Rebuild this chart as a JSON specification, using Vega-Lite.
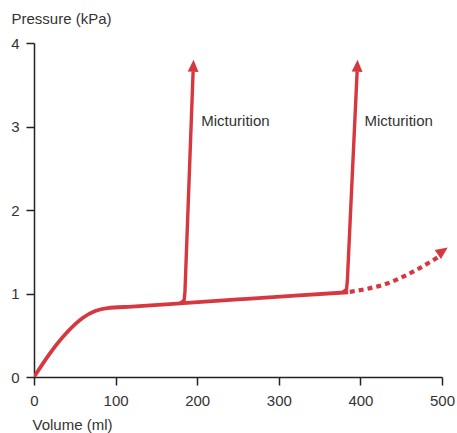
{
  "$schema": "https://vega.github.io/schema/vega-lite/v6.json",
  "width": 408,
  "height": 334,
  "autosize": {"type": "none"},
  "padding": {"left": 34, "top": 43, "right": 15, "bottom": 56},
  "background": "white",
  "config": {
    "view": {"stroke": null},
    "font": "Liberation Sans",
    "axis": {
      "grid": false,
      "domainColor": "#222",
      "domainWidth": 1.5,
      "tickColor": "#222",
      "tickWidth": 1.5,
      "tickSize": 8,
      "labelFontSize": 15,
      "labelColor": "#333",
      "labelFlush": false,
      "titleFontSize": 15,
      "titleFontWeight": "normal",
      "titleColor": "#333"
    }
  },
  "datasets": {
    "curve": [
      {"volume": 0, "pressure": 0},
      {"volume": 20, "pressure": 0.29},
      {"volume": 40, "pressure": 0.53},
      {"volume": 60, "pressure": 0.71},
      {"volume": 75, "pressure": 0.79},
      {"volume": 90, "pressure": 0.825},
      {"volume": 120, "pressure": 0.843},
      {"volume": 183, "pressure": 0.884},
      {"volume": 250, "pressure": 0.929},
      {"volume": 320, "pressure": 0.975},
      {"volume": 385, "pressure": 1.015}
    ],
    "rise": [
      {"event": "first", "volume": 179, "pressure": 0.88},
      {"event": "first", "volume": 184, "pressure": 0.92},
      {"volume": 185, "pressure": 1.02, "event": "first"},
      {"volume": 195, "pressure": 3.66, "event": "first"},
      {"event": "second", "volume": 378, "pressure": 1.01},
      {"event": "second", "volume": 383, "pressure": 1.05},
      {"event": "second", "volume": 384, "pressure": 1.15},
      {"event": "second", "volume": 396, "pressure": 3.66}
    ],
    "dotted": [
      {"volume": 387, "pressure": 1.02},
      {"volume": 410, "pressure": 1.06},
      {"volume": 430, "pressure": 1.11},
      {"volume": 450, "pressure": 1.19},
      {"volume": 470, "pressure": 1.29},
      {"volume": 496, "pressure": 1.44}
    ],
    "upArrows": [
      {"volume": 195.5, "pressure": 3.8},
      {"volume": 396.5, "pressure": 3.8}
    ],
    "sideArrow": [
      {"volume": 507, "pressure": 1.55}
    ],
    "labels": [
      {"volume": 205, "pressure": 3.06, "text": "Micturition"},
      {"volume": 405, "pressure": 3.06, "text": "Micturition"}
    ]
  },
  "encoding": {
    "x": {
      "field": "volume",
      "type": "quantitative",
      "scale": {"domain": [0, 500], "nice": false},
      "axis": {
        "values": [0, 100, 200, 300, 400, 500],
        "title": "Volume (ml)",
        "titleAlign": "left",
        "titleAnchor": "start",
        "titleX": -2,
        "titleY": 52,
        "titleBaseline": "alphabetic",
        "labelPadding": 8
      }
    },
    "y": {
      "field": "pressure",
      "type": "quantitative",
      "scale": {"domain": [0, 4], "nice": false},
      "axis": {
        "values": [0, 1, 2, 3, 4],
        "title": "Pressure (kPa)",
        "titleAngle": 0,
        "titleAlign": "left",
        "titleAnchor": "start",
        "titleX": -23,
        "titleY": -20,
        "titleBaseline": "alphabetic",
        "labelPadding": 7
      }
    }
  },
  "layer": [
    {
      "data": {"name": "curve"},
      "mark": {"type": "line", "color": "#d7373f", "strokeWidth": 3.8, "interpolate": "monotone", "clip": true}
    },
    {
      "data": {"name": "rise"},
      "mark": {"type": "line", "color": "#d7373f", "strokeWidth": 3.4, "interpolate": "linear"},
      "encoding": {"detail": {"field": "event"}}
    },
    {
      "data": {"name": "dotted"},
      "mark": {"type": "line", "color": "#d7373f", "strokeWidth": 4.2, "interpolate": "monotone", "strokeDash": [5, 4]}
    },
    {
      "data": {"name": "upArrows"},
      "mark": {"type": "point", "shape": "M0,0L-0.9,2L0.9,2Z", "filled": true, "color": "#d7373f", "opacity": 1, "size": 144, "angle": 2}
    },
    {
      "data": {"name": "sideArrow"},
      "mark": {"type": "point", "shape": "M0,0L-0.9,2L0.9,2Z", "filled": true, "color": "#d7373f", "opacity": 1, "size": 144, "angle": 55}
    },
    {
      "data": {"name": "labels"},
      "mark": {"type": "text", "align": "left", "baseline": "middle", "fontSize": 15, "color": "#333"},
      "encoding": {"text": {"field": "text"}}
    }
  ]
}
